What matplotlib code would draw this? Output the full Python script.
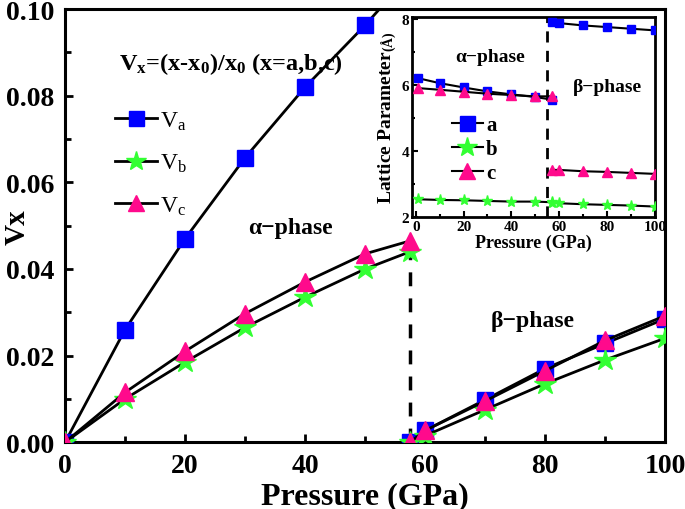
import numpy as np
import matplotlib
matplotlib.use('Agg')
import matplotlib.pyplot as plt
from matplotlib.ticker import MultipleLocator

plt.rcParams['font.family'] = ['Liberation Serif', 'DejaVu Serif']
plt.rcParams['font.weight'] = 'bold'
plt.rcParams['mathtext.fontset'] = 'custom'
plt.rcParams['mathtext.rm'] = 'Liberation Serif:normal'
plt.rcParams['mathtext.bf'] = 'Liberation Serif:bold'
plt.rcParams['mathtext.it'] = 'Liberation Serif:italic'

# Main chart: relative change V_x = (x - x0)/x0
p_alpha = [0, 10, 20, 30, 40, 50, 57.5]
p_beta = [57.5, 60, 70, 80, 90, 100]

va_alpha = [0, 0.026, 0.047, 0.0657, 0.082, 0.0963, 0.108]
vb_alpha = [0, 0.0100, 0.0185, 0.0265, 0.0335, 0.0400, 0.0440]
vc_alpha = [0, 0.0115, 0.0210, 0.0297, 0.0370, 0.0435, 0.0465]

va_beta = [0, 0.0027, 0.0098, 0.0170, 0.0228, 0.0285]
vb_beta = [0, 0.0015, 0.0075, 0.0135, 0.0190, 0.0240]
vc_beta = [0, 0.0027, 0.0095, 0.0165, 0.0235, 0.0292]

# Inset: lattice parameters
ip_alpha = [1, 10, 20, 30, 40, 50, 57]
ip_beta = [57, 60, 70, 80, 90, 100]
a_alpha = [6.20, 6.05, 5.92, 5.80, 5.71, 5.63, 5.55]
b_alpha = [2.53, 2.51, 2.50, 2.48, 2.46, 2.46, 2.44]
c_alpha = [5.90, 5.85, 5.79, 5.73, 5.69, 5.65, 5.65]
a_beta = [7.90, 7.87, 7.80, 7.75, 7.70, 7.65]
b_beta = [2.43, 2.41, 2.38, 2.36, 2.34, 2.31]
c_beta = [3.42, 3.42, 3.38, 3.36, 3.33, 3.30]

blue = '#0000FF'
green = '#33FF33'
pink = '#FF0A8C'

fig = plt.figure(figsize=(6.85, 5.1), dpi=100)
ax = fig.add_axes([0.095, 0.131, 0.876, 0.849])

series = [
    (va_alpha, va_beta, 's', blue, 12, r'$\mathrm{V_a}$'),
    (vb_alpha, vb_beta, '*', green, 16, r'$\mathrm{V_b}$'),
    (vc_alpha, vc_beta, '^', pink, 13, r'$\mathrm{V_c}$'),
]
for ya, yb, m, col, ms, lab in series:
    ax.plot(p_alpha, ya, '-', color='black', lw=2, marker=m, ms=ms,
            mfc=col, mec=col, label=lab, zorder=3)
    ax.plot(p_beta, yb, '-', color='black', lw=2, marker=m, ms=ms,
            mfc=col, mec=col, zorder=3)

ax.vlines(57.5, 0, 0.046, colors='black', linestyles=(0, (4, 3.5)), lw=2.5, zorder=2)

ax.set_xlim(0, 100)
ax.set_ylim(0, 0.10)
ax.xaxis.set_major_locator(MultipleLocator(20))
ax.xaxis.set_minor_locator(MultipleLocator(10))
ax.set_yticks([0, 0.02, 0.04, 0.06, 0.08, 0.10])
ax.set_yticklabels(['0.00', '0.02', '0.04', '0.06', '0.08', '0.10'])
ax.yaxis.set_minor_locator(MultipleLocator(0.01))
ax.tick_params(which='both', direction='in', width=2, labelsize=20)
ax.tick_params(axis='y', pad=8)
ax.tick_params(axis='x', pad=8)
ax.tick_params(which='major', length=6)
ax.tick_params(which='minor', length=4)
for s in ax.spines.values():
    s.set_linewidth(2.2)
ax.set_xlabel('Pressure (GPa)', fontsize=23, fontweight='bold', labelpad=2)
ax.set_ylabel('Vx', fontsize=21, fontweight='bold')
ax.yaxis.set_label_coords(-0.058, 0.5)

ax.text(0.09, 0.875, r'V$_\mathbf{x}$=(x-x$_\mathbf{0}$)/x$_\mathbf{0}$ (x=a,b,c)',
        transform=ax.transAxes, fontsize=17.5, fontweight='bold', va='center')
ax.text(37.5, 0.0495, 'α−phase', fontsize=17, fontweight='bold', ha='center', va='center')
ax.text(78, 0.028, 'β−phase', fontsize=17, fontweight='bold', ha='center', va='center')

leg = ax.legend(loc='upper left', bbox_to_anchor=(0.067, 0.79), frameon=False,
                fontsize=17, handlelength=1.8, handletextpad=0.1, labelspacing=0.85,
                borderaxespad=0, markerscale=0.9)
for t in leg.get_texts():
    t.set_fontweight('normal')

# Inset
ins = fig.add_axes([0.601, 0.573, 0.355, 0.392])
ins_series = [
    (a_alpha, a_beta, 's', blue, 6, 'a'),
    (b_alpha, b_beta, '*', green, 8, 'b'),
    (c_alpha, c_beta, '^', pink, 6.5, 'c'),
]
for ya, yb, m, col, ms, lab in ins_series:
    ins.plot(ip_alpha, ya, '-', color='black', lw=1.5, marker=m, ms=ms,
             mfc=col, mec=col, label=lab, zorder=3)
    ins.plot(ip_beta, yb, '-', color='black', lw=1.5, marker=m, ms=ms,
             mfc=col, mec=col, zorder=3)
ins.axvline(55, color='black', linestyle=(0, (4, 3)), lw=2, zorder=2)
ins.set_xlim(-1.7, 100)
ins.set_ylim(2, 8.06)
ins.xaxis.set_major_locator(MultipleLocator(20))
ins.xaxis.set_minor_locator(MultipleLocator(10))
ins.yaxis.set_major_locator(MultipleLocator(2))
ins.yaxis.set_minor_locator(MultipleLocator(1))
ins.tick_params(which='both', direction='in', width=1.5, labelsize=11, pad=2)
ins.tick_params(which='major', length=4)
ins.tick_params(which='minor', length=2.5)
for s in ins.spines.values():
    s.set_linewidth(2)
ins.set_xlabel('Pressure (GPa)', fontsize=13, fontweight='bold', labelpad=1)
ins.set_ylabel(r'Lattice Parameter$_\mathbf{(Å)}$', fontsize=14, fontweight='bold', labelpad=2)
ins.text(31, 6.85, 'α−phase', fontsize=14, fontweight='bold', ha='center', va='center')
ins.text(80, 5.94, 'β−phase', fontsize=14, fontweight='bold', ha='center', va='center')
ileg = ins.legend(loc='upper left', bbox_to_anchor=(0.13, 0.55), frameon=False,
                  fontsize=15, handlelength=1.5, handletextpad=0.15, labelspacing=0.2,
                  borderaxespad=0, markerscale=1.8)

fig.savefig('out.png', dpi=100)
